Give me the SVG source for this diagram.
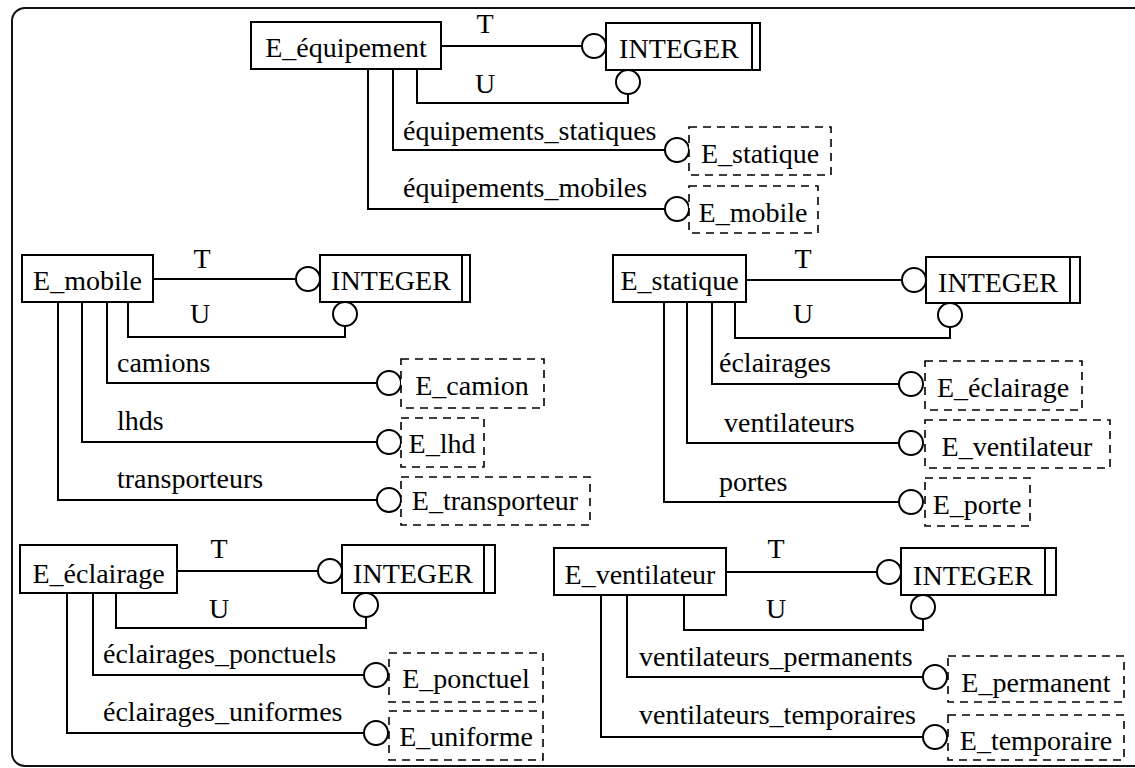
<svg xmlns="http://www.w3.org/2000/svg" width="1135" height="768" viewBox="0 0 1135 768">
<style>
text{font-family:"Liberation Serif","Times New Roman",serif;font-size:28px;fill:#000}
.c{text-anchor:middle}
.box{fill:#fff;stroke:#000;stroke-width:2}
.dbox{fill:#fff;stroke:#000;stroke-width:1.6;stroke-dasharray:8 6}
.ln{fill:none;stroke:#000;stroke-width:2}
.ring{fill:#fff;stroke:#000;stroke-width:2}
.frame{fill:none;stroke:#111;stroke-width:2}
</style>
<rect width="1135" height="768" fill="#fff"/>
<rect class="frame" x="12" y="8" width="1150" height="758" rx="13"/>

<g id="connectors">
  <!-- section E_equipement -->
  <path class="ln" d="M441,46 H582"/>
  <path class="ln" d="M628,94 V103 H417 V69"/>
  <path class="ln" d="M393,69 V150 H665"/>
  <path class="ln" d="M368,69 V209 H665"/>
  <circle class="ring" cx="594" cy="46" r="12"/>
  <circle class="ring" cx="628" cy="82" r="12"/>
  <circle class="ring" cx="677" cy="150" r="12"/>
  <circle class="ring" cx="677" cy="209" r="12"/>
  <text class="c" x="485" y="33">T</text>
  <text class="c" x="485" y="93">U</text>
  <text x="403" y="140">équipements_statiques</text>
  <text x="403" y="197">équipements_mobiles</text>

  <!-- section E_mobile -->
  <path class="ln" d="M153,279 H296"/>
  <path class="ln" d="M345,326 V337 H128 V302"/>
  <path class="ln" d="M107,302 V383 H377"/>
  <path class="ln" d="M82,302 V442 H377"/>
  <path class="ln" d="M58,302 V500 H377"/>
  <circle class="ring" cx="308" cy="279" r="12"/>
  <circle class="ring" cx="345" cy="314" r="12"/>
  <circle class="ring" cx="389" cy="383" r="12"/>
  <circle class="ring" cx="389" cy="442" r="12"/>
  <circle class="ring" cx="389" cy="500" r="12"/>
  <text class="c" x="202" y="268">T</text>
  <text class="c" x="200" y="323">U</text>
  <text x="117" y="372">camions</text>
  <text x="117" y="430">lhds</text>
  <text x="117" y="488">transporteurs</text>

  <!-- section E_statique -->
  <path class="ln" d="M746,280 H903"/>
  <path class="ln" d="M950,327 V338 H735 V302"/>
  <path class="ln" d="M712,302 V384 H899"/>
  <path class="ln" d="M687,302 V443 H899"/>
  <path class="ln" d="M664,302 V502 H899"/>
  <circle class="ring" cx="914" cy="280" r="12"/>
  <circle class="ring" cx="950" cy="315" r="12"/>
  <circle class="ring" cx="911" cy="384" r="12"/>
  <circle class="ring" cx="911" cy="443" r="12"/>
  <circle class="ring" cx="911" cy="502" r="12"/>
  <text class="c" x="803" y="268">T</text>
  <text class="c" x="803" y="323">U</text>
  <text x="719" y="372">éclairages</text>
  <text x="724" y="432">ventilateurs</text>
  <text x="719" y="491">portes</text>

  <!-- section E_eclairage -->
  <path class="ln" d="M177,571 H318"/>
  <path class="ln" d="M366,617 V628 H116 V593"/>
  <path class="ln" d="M93,593 V675 H364"/>
  <path class="ln" d="M67,593 V733 H364"/>
  <circle class="ring" cx="330" cy="571" r="12"/>
  <circle class="ring" cx="366" cy="605" r="12"/>
  <circle class="ring" cx="376" cy="675" r="12"/>
  <circle class="ring" cx="376" cy="733" r="12"/>
  <text class="c" x="219" y="558">T</text>
  <text class="c" x="219" y="618">U</text>
  <text x="103" y="663">éclairages_ponctuels</text>
  <text x="103" y="721">éclairages_uniformes</text>

  <!-- section E_ventilateur -->
  <path class="ln" d="M726,572 H877"/>
  <path class="ln" d="M923,619 V630 H684 V595"/>
  <path class="ln" d="M627,595 V677 H923"/>
  <path class="ln" d="M601,595 V737 H923"/>
  <circle class="ring" cx="889" cy="572" r="12"/>
  <circle class="ring" cx="923" cy="607" r="12"/>
  <circle class="ring" cx="935" cy="677" r="12"/>
  <circle class="ring" cx="935" cy="737" r="12"/>
  <text class="c" x="776" y="558">T</text>
  <text class="c" x="776" y="618">U</text>
  <text x="639" y="666">ventilateurs_permanents</text>
  <text x="639" y="724">ventilateurs_temporaires</text>
</g>

<!-- section E_equipement nodes -->
<g id="E_equipement"><rect class="box" x="251" y="22" width="190" height="47"/><text class="c" x="346" y="57">E_équipement</text></g>
<g id="INTEGER_1"><rect class="box" x="606" y="23" width="154" height="47"/><line class="ln" x1="752" y1="23" x2="752" y2="70"/><text class="c" x="679" y="58">INTEGER</text></g>
<g id="E_statique_ref"><rect class="dbox" x="689" y="127" width="142" height="48"/><text class="c" x="760" y="163">E_statique</text></g>
<g id="E_mobile_ref"><rect class="dbox" x="689" y="186" width="129" height="47"/><text class="c" x="753" y="222">E_mobile</text></g>

<!-- section E_mobile nodes -->
<g id="E_mobile"><rect class="box" x="22" y="255" width="131" height="47"/><text class="c" x="87.5" y="290">E_mobile</text></g>
<g id="INTEGER_2"><rect class="box" x="320" y="255" width="150" height="47"/><line class="ln" x1="462" y1="255" x2="462" y2="302"/><text class="c" x="391" y="290">INTEGER</text></g>
<g id="E_camion"><rect class="dbox" x="401" y="359" width="143" height="49"/><text class="c" x="472" y="395">E_camion</text></g>
<g id="E_lhd"><rect class="dbox" x="401" y="418" width="83" height="49"/><text class="c" x="442" y="453">E_lhd</text></g>
<g id="E_transporteur"><rect class="dbox" x="401" y="477" width="189" height="48"/><text class="c" x="495" y="510">E_transporteur</text></g>

<!-- section E_statique nodes -->
<g id="E_statique"><rect class="box" x="613" y="255" width="133" height="47"/><text class="c" x="679.5" y="290">E_statique</text></g>
<g id="INTEGER_3"><rect class="box" x="926" y="257" width="154" height="46"/><line class="ln" x1="1070" y1="257" x2="1070" y2="303"/><text class="c" x="998" y="292">INTEGER</text></g>
<g id="E_eclairage_ref"><rect class="dbox" x="925" y="361" width="157" height="49"/><text class="c" x="1003" y="397">E_éclairage</text></g>
<g id="E_ventilateur_ref"><rect class="dbox" x="925" y="420" width="185" height="48"/><text class="c" x="1017" y="456">E_ventilateur</text></g>
<g id="E_porte"><rect class="dbox" x="925" y="478" width="105" height="48"/><text class="c" x="977" y="514">E_porte</text></g>

<!-- section E_eclairage nodes -->
<g id="E_eclairage"><rect class="box" x="20" y="545" width="157" height="48"/><text class="c" x="98.5" y="583">E_éclairage</text></g>
<g id="INTEGER_4"><rect class="box" x="342" y="545" width="153" height="48"/><line class="ln" x1="484" y1="545" x2="484" y2="593"/><text class="c" x="413" y="583">INTEGER</text></g>
<g id="E_ponctuel"><rect class="dbox" x="389" y="653" width="154" height="49"/><text class="c" x="466" y="688">E_ponctuel</text></g>
<g id="E_uniforme"><rect class="dbox" x="389" y="711" width="154" height="49"/><text class="c" x="466" y="746">E_uniforme</text></g>

<!-- section E_ventilateur nodes -->
<g id="E_ventilateur"><rect class="box" x="554" y="548" width="172" height="47"/><text class="c" x="640" y="584">E_ventilateur</text></g>
<g id="INTEGER_5"><rect class="box" x="901" y="548" width="155" height="47"/><line class="ln" x1="1045" y1="548" x2="1045" y2="595"/><text class="c" x="973" y="585">INTEGER</text></g>
<g id="E_permanent"><rect class="dbox" x="948" y="656" width="176" height="46"/><text class="c" x="1036" y="692">E_permanent</text></g>
<g id="E_temporaire"><rect class="dbox" x="948" y="715" width="176" height="45"/><text class="c" x="1036" y="750">E_temporaire</text></g>
</svg>
